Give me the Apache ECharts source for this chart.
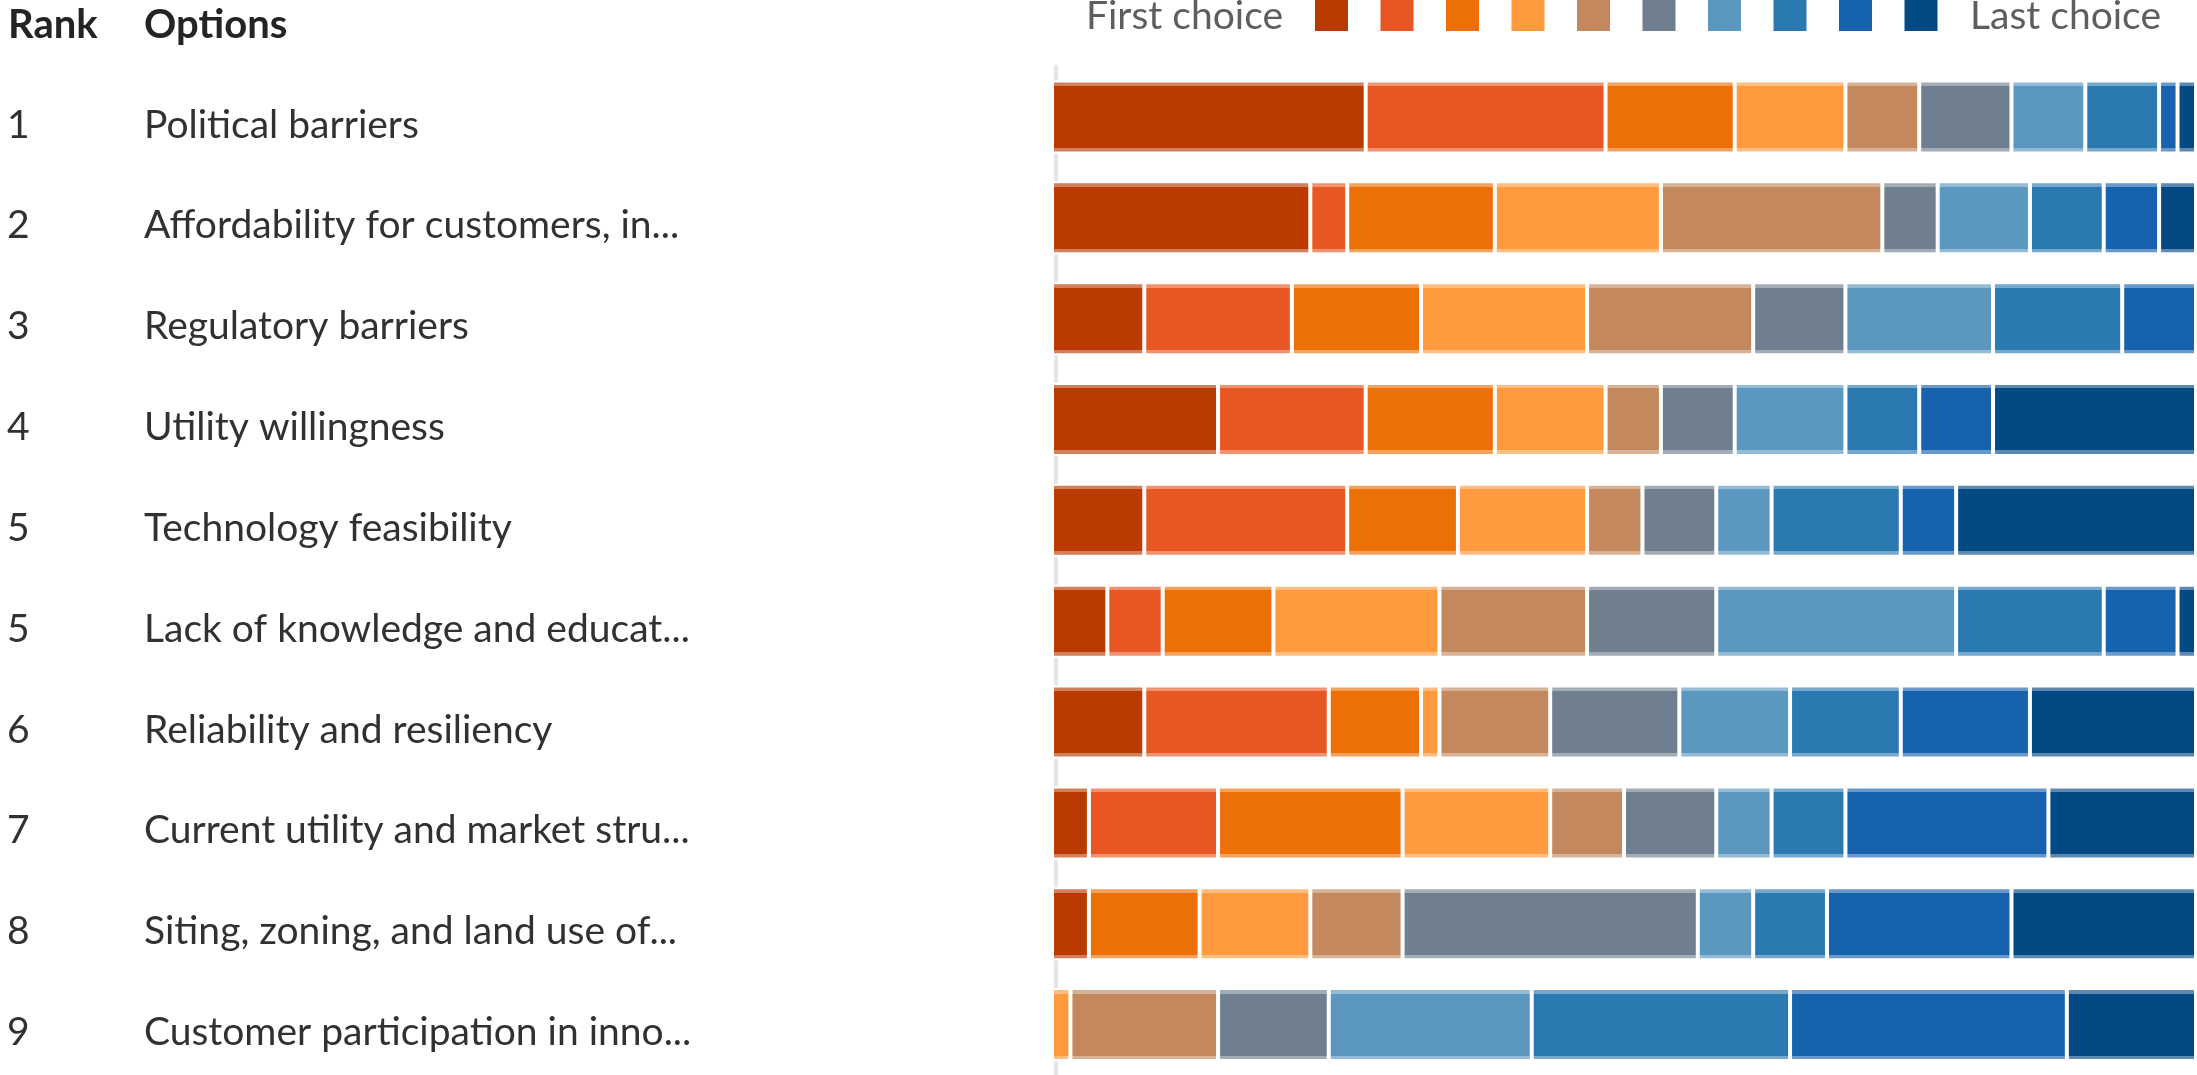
<!DOCTYPE html>
<html><head><meta charset="utf-8">
<script src="https://cdn.jsdelivr.net/npm/echarts@6/dist/echarts.min.js"></script>
<style>html,body{margin:0;padding:0;background:#fff;overflow:hidden}#c{width:2197px;height:1075px}</style>
</head><body><div id="c"></div>
<script>
// ---- data ----
const headers = ['Rank', 'Options'];
const ranks = [1, 2, 3, 4, 5, 5, 6, 7, 8, 9];
const options = [
  'Political barriers',
  'Affordability for customers, in...',
  'Regulatory barriers',
  'Utility willingness',
  'Technology feasibility',
  'Lack of knowledge and educat...',
  'Reliability and resiliency',
  'Current utility and market stru...',
  'Siting, zoning, and land use of...',
  'Customer participation in inno...'
];
const legendFirst = 'First choice';
const legendLast = 'Last choice';
const choiceNames = ['Choice 1','Choice 2','Choice 3','Choice 4','Choice 5','Choice 6','Choice 7','Choice 8','Choice 9','Choice 10'];
const choice1  = [17, 14, 5, 9, 5, 3, 5, 2, 2, 0];
const choice2  = [13, 2, 8, 8, 11, 3, 10, 7, 0, 0];
const choice3  = [7, 8, 7, 7, 6, 6, 5, 10, 6, 0];
const choice4  = [6, 9, 9, 6, 7, 9, 1, 8, 6, 1];
const choice5  = [4, 12, 9, 3, 3, 8, 6, 4, 5, 8];
const choice6  = [5, 3, 5, 4, 4, 7, 7, 5, 16, 6];
const choice7  = [4, 5, 8, 6, 3, 13, 6, 3, 3, 11];
const choice8  = [4, 4, 7, 4, 7, 8, 6, 4, 4, 14];
const choice9  = [1, 3, 4, 4, 3, 4, 7, 11, 10, 15];
const choice10 = [1, 2, 0, 11, 13, 1, 9, 8, 10, 7];
const respondents = 62;

// ---- styling ----
const palette = ['#BA3A02','#E85723','#EC7005','#FF9A3E','#C3885E','#707F8F','#5B97BF','#2B79B1','#1662AD','#034A85'];
const FONT = 'Lato';
function lighten(hex, t) {
  const n = parseInt(hex.slice(1), 16);
  const r = (n >> 16) & 255, g = (n >> 8) & 255, b = n & 255;
  const m = v => Math.round(v + (255 - v) * t);
  return 'rgb(' + m(r) + ',' + m(g) + ',' + m(b) + ')';
}
function bandFill(c) {
  const l = lighten(c, 0.35);
  const a = 0.075, b = 0.925;
  return { type: 'linear', x: 0, y: 0, x2: 0, y2: 1, colorStops: [
    { offset: 0, color: l }, { offset: a, color: l }, { offset: a, color: c },
    { offset: b, color: c }, { offset: b, color: l }, { offset: 1, color: l } ] };
}
const choices = [choice1, choice2, choice3, choice4, choice5, choice6, choice7, choice8, choice9, choice10];

const series = choices.map((d, i) => ({
  name: choiceNames[i], type: 'bar', stack: 'total', barWidth: 73, data: d,
  silent: true,
  itemStyle: { color: bandFill(palette[i]), borderColor: '#fff', borderWidth: 2 },
  emphasis: { disabled: true }
}));

const legends = choiceNames.map((n, i) => ({
  data: [{ name: n, itemStyle: { color: palette[i], borderWidth: 0 } }],
  left: 1315 + i * 65.5, top: 0, padding: 0, itemWidth: 33, itemHeight: 31,
  icon: 'rect', selectedMode: false, formatter: () => '', textStyle: { fontSize: 1 }
}));

const chart = echarts.init(document.getElementById('c'), null, { renderer: 'canvas' });
chart.setOption({
  animation: false,
  backgroundColor: '#fff',
  title: [
    { text: headers[0], left: 8, top: 5, padding: 0, textStyle: { fontFamily: FONT, fontSize: 40, fontWeight: 'bold', color: '#252423' } },
    { text: headers[1], left: 144, top: 5, padding: 0, textStyle: { fontFamily: FONT, fontSize: 40, fontWeight: 'bold', color: '#252423' } },
    { text: legendFirst, right: 914, top: -3, padding: 0, textStyle: { fontFamily: FONT, fontSize: 39, fontWeight: 'normal', color: '#5f5e5c' } },
    { text: legendLast, left: 1970, top: -3, padding: 0, textStyle: { fontFamily: FONT, fontSize: 39, fontWeight: 'normal', color: '#5f5e5c' } }
  ],
  legend: legends,
  grid: { left: 1052, right: 1, top: 66.5, bottom: 0, containLabel: false, outerBoundsMode: 'none' },
  xAxis: { type: 'value', min: 0, max: respondents, show: false },
  yAxis: {
    type: 'category', data: options, inverse: true, offset: -4,
    axisTick: { show: false },
    axisLine: { show: true, lineStyle: { color: '#E6E6E6', width: 4 } },
    splitLine: { show: false },
    axisLabel: {
      align: 'left', margin: 1049, padding: [16, 0, 0, 0],
      formatter: (v, i) => '{r|' + ranks[i] + '}{o|' + v + '}',
      rich: {
        r: { width: 137, fontFamily: FONT, fontSize: 39, color: '#323130' },
        o: { fontFamily: FONT, fontSize: 39, color: '#323130' }
      }
    }
  },
  series: series
});
</script></body></html>
